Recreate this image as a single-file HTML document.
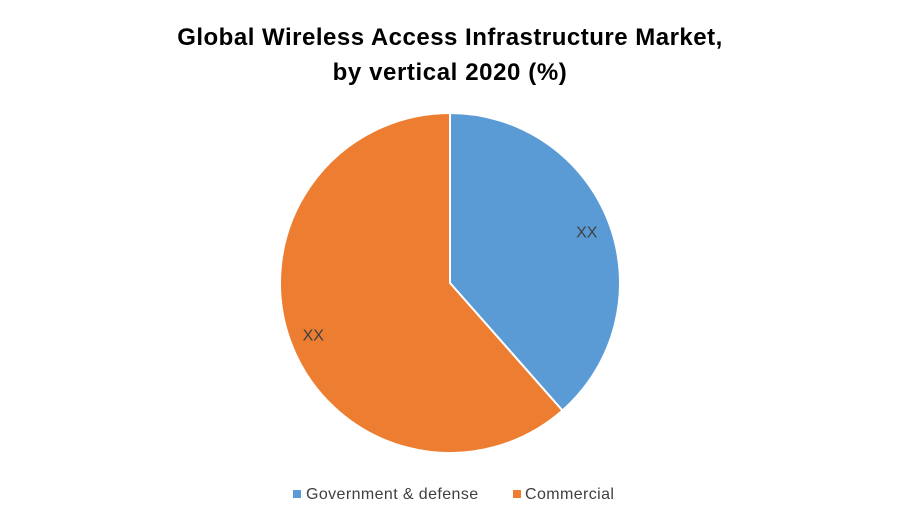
<!DOCTYPE html>
<html><head><meta charset="utf-8"><style>
body{margin:0;background:#fff;width:900px;height:525px;overflow:hidden;font-family:"Liberation Sans",sans-serif}
</style></head><body>
<svg width="900" height="525">
<text x="450" y="45" text-anchor="middle" font-size="24" font-weight="bold" fill="#000" letter-spacing="0.5">Global Wireless Access Infrastructure Market,</text>
<text x="450" y="80" text-anchor="middle" font-size="24" font-weight="bold" fill="#000" letter-spacing="0.6">by vertical 2020 (%)</text>
<g id="slices"></g>
<g>
<rect x="293" y="490" width="8" height="8" fill="#5b9bd5"/>
<text x="306" y="499" font-size="16" fill="#404040" letter-spacing="0.4">Government &amp; defense</text>
<rect x="513" y="490" width="8" height="8" fill="#ed7d31"/>
<text x="525" y="499" font-size="16" fill="#404040" letter-spacing="0.4">Commercial</text>
</g>
</svg>
<script>
const categories=["Government & defense","Commercial"];
const values=[38.5,61.5];
const labels=["XX","XX"];
const colors=["#5b9bd5","#ed7d31"];
const cx=450,cy=283,r=170;
const g=document.getElementById('slices');
const total=values.reduce((a,b)=>a+b,0);
let a0=0;
const ns="http://www.w3.org/2000/svg";
values.forEach((v,i)=>{
  const a1=a0+v/total*2*Math.PI;
  const p=(a)=>[cx+r*Math.sin(a),cy-r*Math.cos(a)];
  const [x0,y0]=p(a0),[x1,y1]=p(a1);
  const path=document.createElementNS(ns,'path');
  path.setAttribute('d',`M${cx},${cy}L${x0},${y0}A${r},${r} 0 ${a1-a0>Math.PI?1:0} 1 ${x1},${y1}Z`);
  path.setAttribute('fill',colors[i]);
  path.setAttribute('stroke','#fff');
  path.setAttribute('stroke-width','2');
  
  
  g.appendChild(path);
  const am=(a0+a1)/2;
  const t=document.createElementNS(ns,'text');
  t.setAttribute('x',cx+0.86*r*Math.sin(am));
  t.setAttribute('y',cy-0.86*r*Math.cos(am)+6);
  t.setAttribute('text-anchor','middle');
  t.setAttribute('font-size','16');
  t.setAttribute('fill','#404040');
  t.textContent=labels[i];
  
  
  g.appendChild(t);
  a0=a1;
});
</script>
</body></html>
